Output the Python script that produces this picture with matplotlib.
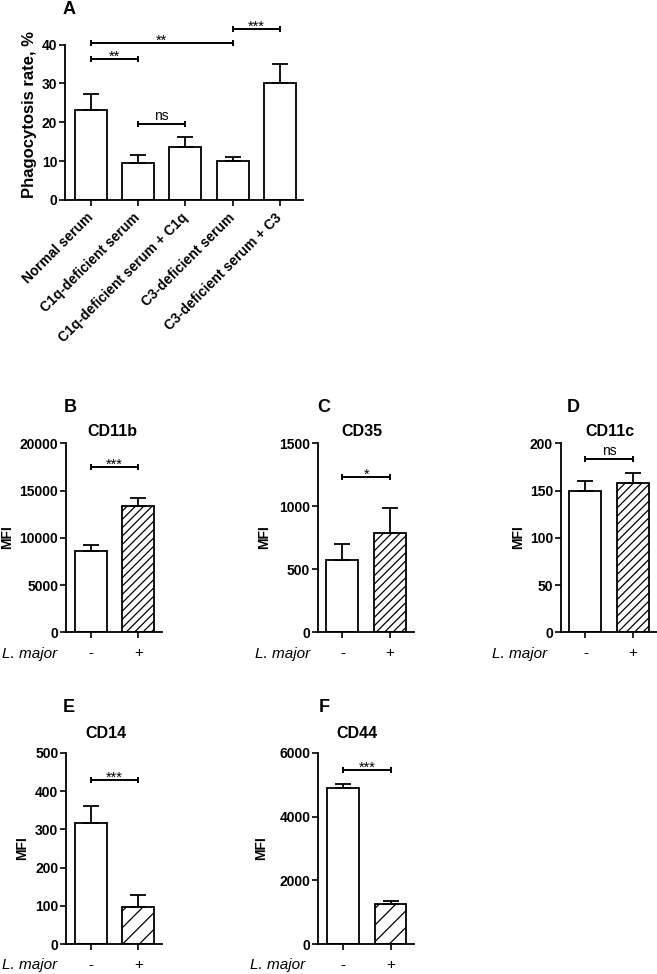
import matplotlib
matplotlib.use('Agg')
import matplotlib.pyplot as plt
import numpy as np

# ---------------- data ----------------
a_categories = ['Normal serum', 'C1q-deficient serum', 'C1q-deficient serum + C1q',
                'C3-deficient serum', 'C3-deficient serum + C3']
a_means = [23.1, 9.5, 13.6, 10.0, 30.2]
a_errs = [4.1, 2.0, 2.5, 1.1, 4.9]
a_brackets = [(0, 1, 36.3, '**'), (0, 3, 40.5, '**'), (3, 4, 44.1, '***'), (1, 2, 19.5, 'ns')]

lmajor_ticks = ['-', '+']

b_means = [8650, 13400]; b_errs = [600, 850]; b_sig = (17500, '***')
c_means = [577, 791];    c_errs = [127, 192]; c_sig = (1231, '*')
d_means = [149, 157.5];  d_errs = [11, 11];   d_sig = (183, 'ns')
e_means = [317, 97];     e_errs = [44, 31];   e_sig = (429, '***')
f_means = [4911, 1257];  f_errs = [126, 83];  f_sig = (5476, '***')

# ---------------- style ----------------
W, H = 657, 974
plt.rcParams['font.family'] = ['Liberation Sans', 'DejaVu Sans']
plt.rcParams['hatch.linewidth'] = 0.9
plt.rcParams['hatch.color'] = 'black'
LW = 1.3

fig = plt.figure(figsize=(W / 100, H / 100), dpi=100)


def px_axes(x0, ytop, x1, ybot):
    return fig.add_axes([x0 / W, 1 - ybot / H, (x1 - x0) / W, (ybot - ytop) / H])


def ftext(x, y, s, **kw):
    fig.text(x / W, 1 - y / H, s, **kw)


def style_axes(ax):
    for s in ['top', 'right']:
        ax.spines[s].set_visible(False)
    for s in ['left', 'bottom']:
        ax.spines[s].set_linewidth(LW)
    ax.tick_params(direction='out', length=4, width=1.2, colors='black')
    ax.tick_params(axis='y', pad=1.5)


def bracket(ax, x1, x2, y, text, ppu, fs_star=10.5, fs_ns=10):
    h = 3.0 / ppu
    kw = dict(color='black', lw=1.4, clip_on=False, solid_capstyle='butt')
    ax.plot([x1, x2], [y, y], **kw)
    ax.plot([x1, x1], [y - h, y + h], **kw)
    ax.plot([x2, x2], [y - h, y + h], **kw)
    if text == 'ns':
        ax.text((x1 + x2) / 2, y + 4 / ppu, text, ha='center', va='baseline',
                fontsize=fs_ns, clip_on=False)
    else:
        ax.text((x1 + x2) / 2, y - 2 / ppu, text, ha='center', va='baseline',
                fontsize=fs_star, clip_on=False)


# ---------------- panel A ----------------
axA = px_axes(65, 44.5, 303, 200)
xa = np.arange(len(a_means))
axA.bar(xa, a_means, width=0.68, color='white', edgecolor='black', linewidth=LW, zorder=2)
axA.errorbar(xa, a_means, yerr=[np.zeros(len(a_errs)), a_errs], fmt='none', ecolor='black',
             elinewidth=LW, capsize=5.5, capthick=LW, zorder=3)
axA.set_xlim(-0.55, 4.49)
axA.set_ylim(0, 40)
axA.set_yticks([0, 10, 20, 30, 40])
style_axes(axA)
axA.set_xticks(xa)
axA.set_xticklabels(a_categories, rotation=45, ha='right', va='center',
                    rotation_mode='anchor', fontsize=10, fontweight='bold')
axA.tick_params(axis='x', pad=7)
for lab in axA.get_yticklabels():
    lab.set_fontsize(10); lab.set_fontweight('bold')
ppuA = 155.5 / 40
for x1, x2, y, t in a_brackets:
    bracket(axA, x1, x2, y, t, ppuA)
ftext(30, 115, 'Phagocytosis rate, %', rotation=90, ha='center', va='center',
      fontsize=12, fontweight='bold')
ftext(69.5, 10, 'A', ha='center', va='center', fontsize=13, fontweight='bold')

# ---------------- small panels ----------------
panels = [
    # letter, title, means, errs, sig, ymax, ystep, axes px (x0, ytop, x1, ybot), letter pos, title pos, ylabel pos, lmajor x, hatch
    ('B', 'CD11b', b_means, b_errs, b_sig, 20000, 5000, (66, 443.3, 162, 632.3), (70, 408), (112, 431), (7, 537.5), 2, '////'),
    ('C', 'CD35', c_means, c_errs, c_sig, 1500, 500, (317.7, 443.3, 413.7, 632.3), (324, 408), (362, 431), (264, 537.5), 255, '////'),
    ('D', 'CD11c', d_means, d_errs, d_sig, 200, 50, (560.7, 443.3, 656.7, 632.3), (573, 408), (610, 431), (518, 537.5), 492, '////'),
    ('E', 'CD14', e_means, e_errs, e_sig, 500, 100, (66, 753, 162, 944), (69, 708), (105.5, 733), (22.5, 848.5), 2, '//'),
    ('F', 'CD44', f_means, f_errs, f_sig, 6000, 2000, (318.3, 753, 414.3, 944), (324, 708), (357, 733), (261, 848.5), 250, '//'),
]

for (letter, title, means, errs, sig, ymax, ystep, box, lpos, tpos, ylpos, lmx, hatch) in panels:
    x0, yt, x1, yb = box
    ax = px_axes(x0, yt, x1, yb)
    xs = np.arange(2)
    ax.bar(xs[0], means[0], width=0.67, color='white', edgecolor='black', linewidth=LW, zorder=2)
    ax.bar(xs[1], means[1], width=0.67, color='white', edgecolor='black', linewidth=LW,
           hatch=hatch, zorder=2)
    ax.errorbar(xs, means, yerr=[np.zeros(2), errs], fmt='none', ecolor='black',
                elinewidth=LW, capsize=5.5, capthick=LW, zorder=3)
    ax.set_xlim(-0.52, 1.5)
    ax.set_ylim(0, ymax)
    ax.set_yticks(np.arange(0, ymax + 1, ystep))
    ax.set_yticklabels([str(int(v)) for v in np.arange(0, ymax + 1, ystep)],
                       fontsize=10, fontweight='bold')
    style_axes(ax)
    ax.set_xticks(xs)
    ax.set_xticklabels(lmajor_ticks, fontsize=11)
    ax.tick_params(axis='x', pad=6)
    ppu = (yb - yt) / ymax
    bracket(ax, 0, 1, sig[0], sig[1], ppu)
    ftext(lpos[0], lpos[1], letter, ha='center', va='center', fontsize=13, fontweight='bold')
    ftext(tpos[0], tpos[1], title, ha='center', va='center', fontsize=11.5, fontweight='bold')
    ftext(ylpos[0], ylpos[1], 'MFI', rotation=90, ha='center', va='center',
          fontsize=10, fontweight='bold')
    ftext(lmx, yb + 21.5, 'L. major', ha='left', va='center', fontsize=11, fontstyle='italic')

fig.savefig('out.png', dpi=100)
